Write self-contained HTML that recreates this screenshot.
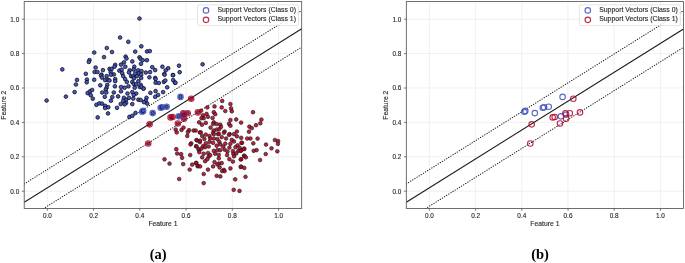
<!DOCTYPE html>
<html><head><meta charset="utf-8"><style>
html,body{margin:0;padding:0;background:#fff;width:685px;height:263px;overflow:hidden}
svg{display:block;will-change:transform;filter:blur(0.25px)}
.tk{font-family:"Liberation Sans",sans-serif;font-size:6.4px;fill:#262626;stroke:#262626;stroke-width:0.12px}
.al{font-family:"Liberation Sans",sans-serif;font-size:6.8px;fill:#262626;stroke:#262626;stroke-width:0.12px}
.lg{font-family:"Liberation Sans",sans-serif;font-size:6.8px;fill:#262626;stroke:#262626;stroke-width:0.12px}
.cap{font-family:"Liberation Serif",serif;font-size:14.5px;font-weight:bold;fill:#000}
</style></head><body>
<svg width="685" height="263" viewBox="0 0 685 263">
<g>
<line x1="47.33" y1="2.0" x2="47.33" y2="208.4" stroke="#e6e6e6" stroke-width="0.6"/>
<line x1="24.2" y1="191.20" x2="301.7" y2="191.20" stroke="#e6e6e6" stroke-width="0.6"/>
<line x1="93.58" y1="2.0" x2="93.58" y2="208.4" stroke="#e6e6e6" stroke-width="0.6"/>
<line x1="24.2" y1="156.80" x2="301.7" y2="156.80" stroke="#e6e6e6" stroke-width="0.6"/>
<line x1="139.82" y1="2.0" x2="139.82" y2="208.4" stroke="#e6e6e6" stroke-width="0.6"/>
<line x1="24.2" y1="122.40" x2="301.7" y2="122.40" stroke="#e6e6e6" stroke-width="0.6"/>
<line x1="186.07" y1="2.0" x2="186.07" y2="208.4" stroke="#e6e6e6" stroke-width="0.6"/>
<line x1="24.2" y1="88.00" x2="301.7" y2="88.00" stroke="#e6e6e6" stroke-width="0.6"/>
<line x1="232.32" y1="2.0" x2="232.32" y2="208.4" stroke="#e6e6e6" stroke-width="0.6"/>
<line x1="24.2" y1="53.60" x2="301.7" y2="53.60" stroke="#e6e6e6" stroke-width="0.6"/>
<line x1="278.58" y1="2.0" x2="278.58" y2="208.4" stroke="#e6e6e6" stroke-width="0.6"/>
<line x1="24.2" y1="19.20" x2="301.7" y2="19.20" stroke="#e6e6e6" stroke-width="0.6"/>
<clipPath id="clipa"><rect x="24.2" y="2.0" width="277.5" height="206.4"/></clipPath>
<g clip-path="url(#clipa)">
<line x1="24.2" y1="202.25" x2="301.7" y2="28.729250000000008" stroke="#1a1a1a" stroke-width="1.1"/>
<line x1="24.2" y1="183.95" x2="301.7" y2="10.429250000000007" stroke="#1a1a1a" stroke-width="1.05" stroke-linecap="round" stroke-dasharray="0.35 2.15"/>
<line x1="24.2" y1="220.65" x2="301.7" y2="47.129250000000006" stroke="#1a1a1a" stroke-width="1.05" stroke-linecap="round" stroke-dasharray="0.35 2.15"/>
<circle cx="139.5" cy="18.5" r="1.85" fill="#4858c6" fill-opacity="1.0" stroke="#000" stroke-opacity="1.0" stroke-width="0.7"/>
<circle cx="120.1" cy="37.5" r="1.85" fill="#4858c6" fill-opacity="1.0" stroke="#000" stroke-opacity="1.0" stroke-width="0.7"/>
<circle cx="128.3" cy="41.8" r="1.85" fill="#4858c6" fill-opacity="1.0" stroke="#000" stroke-opacity="1.0" stroke-width="0.7"/>
<circle cx="106.8" cy="48.0" r="1.85" fill="#4858c6" fill-opacity="1.0" stroke="#000" stroke-opacity="1.0" stroke-width="0.7"/>
<circle cx="112.0" cy="52.0" r="1.85" fill="#4858c6" fill-opacity="1.0" stroke="#000" stroke-opacity="1.0" stroke-width="0.7"/>
<circle cx="141.3" cy="46.3" r="1.85" fill="#4858c6" fill-opacity="1.0" stroke="#000" stroke-opacity="1.0" stroke-width="0.7"/>
<circle cx="135.2" cy="51.6" r="1.85" fill="#4858c6" fill-opacity="1.0" stroke="#000" stroke-opacity="1.0" stroke-width="0.7"/>
<circle cx="147.0" cy="51.4" r="1.85" fill="#4858c6" fill-opacity="1.0" stroke="#000" stroke-opacity="1.0" stroke-width="0.7"/>
<circle cx="149.8" cy="51.1" r="1.85" fill="#4858c6" fill-opacity="1.0" stroke="#000" stroke-opacity="1.0" stroke-width="0.7"/>
<circle cx="94.2" cy="52.5" r="1.85" fill="#4858c6" fill-opacity="1.0" stroke="#000" stroke-opacity="1.0" stroke-width="0.7"/>
<circle cx="89.5" cy="60.1" r="1.85" fill="#4858c6" fill-opacity="1.0" stroke="#000" stroke-opacity="1.0" stroke-width="0.7"/>
<circle cx="88.8" cy="61.9" r="1.85" fill="#4858c6" fill-opacity="1.0" stroke="#000" stroke-opacity="1.0" stroke-width="0.7"/>
<circle cx="62.3" cy="69.4" r="1.85" fill="#4858c6" fill-opacity="1.0" stroke="#000" stroke-opacity="1.0" stroke-width="0.7"/>
<circle cx="95.6" cy="67.5" r="1.85" fill="#4858c6" fill-opacity="1.0" stroke="#000" stroke-opacity="1.0" stroke-width="0.7"/>
<circle cx="94.6" cy="72.0" r="1.85" fill="#4858c6" fill-opacity="1.0" stroke="#000" stroke-opacity="1.0" stroke-width="0.7"/>
<circle cx="97.5" cy="72.0" r="1.85" fill="#4858c6" fill-opacity="1.0" stroke="#000" stroke-opacity="1.0" stroke-width="0.7"/>
<circle cx="85.8" cy="73.8" r="1.85" fill="#4858c6" fill-opacity="1.0" stroke="#000" stroke-opacity="1.0" stroke-width="0.7"/>
<circle cx="77.0" cy="79.9" r="1.85" fill="#4858c6" fill-opacity="1.0" stroke="#000" stroke-opacity="1.0" stroke-width="0.7"/>
<circle cx="86.9" cy="79.6" r="1.85" fill="#4858c6" fill-opacity="1.0" stroke="#000" stroke-opacity="1.0" stroke-width="0.7"/>
<circle cx="86.7" cy="82.3" r="1.85" fill="#4858c6" fill-opacity="1.0" stroke="#000" stroke-opacity="1.0" stroke-width="0.7"/>
<circle cx="94.2" cy="79.7" r="1.85" fill="#4858c6" fill-opacity="1.0" stroke="#000" stroke-opacity="1.0" stroke-width="0.7"/>
<circle cx="75.9" cy="84.5" r="1.85" fill="#4858c6" fill-opacity="1.0" stroke="#000" stroke-opacity="1.0" stroke-width="0.7"/>
<circle cx="104.0" cy="57.1" r="1.85" fill="#4858c6" fill-opacity="1.0" stroke="#000" stroke-opacity="1.0" stroke-width="0.7"/>
<circle cx="125.6" cy="56.6" r="1.85" fill="#4858c6" fill-opacity="1.0" stroke="#000" stroke-opacity="1.0" stroke-width="0.7"/>
<circle cx="126.5" cy="58.5" r="1.85" fill="#4858c6" fill-opacity="1.0" stroke="#000" stroke-opacity="1.0" stroke-width="0.7"/>
<circle cx="139.5" cy="57.3" r="1.85" fill="#4858c6" fill-opacity="1.0" stroke="#000" stroke-opacity="1.0" stroke-width="0.7"/>
<circle cx="140.5" cy="58.8" r="1.85" fill="#4858c6" fill-opacity="1.0" stroke="#000" stroke-opacity="1.0" stroke-width="0.7"/>
<circle cx="142.7" cy="60.2" r="1.85" fill="#4858c6" fill-opacity="1.0" stroke="#000" stroke-opacity="1.0" stroke-width="0.7"/>
<circle cx="132.3" cy="61.4" r="1.85" fill="#4858c6" fill-opacity="1.0" stroke="#000" stroke-opacity="1.0" stroke-width="0.7"/>
<circle cx="123.9" cy="62.4" r="1.85" fill="#4858c6" fill-opacity="1.0" stroke="#000" stroke-opacity="1.0" stroke-width="0.7"/>
<circle cx="121.0" cy="64.6" r="1.85" fill="#4858c6" fill-opacity="1.0" stroke="#000" stroke-opacity="1.0" stroke-width="0.7"/>
<circle cx="115.2" cy="64.9" r="1.85" fill="#4858c6" fill-opacity="1.0" stroke="#000" stroke-opacity="1.0" stroke-width="0.7"/>
<circle cx="114.5" cy="66.7" r="1.85" fill="#4858c6" fill-opacity="1.0" stroke="#000" stroke-opacity="1.0" stroke-width="0.7"/>
<circle cx="125.3" cy="66.7" r="1.85" fill="#4858c6" fill-opacity="1.0" stroke="#000" stroke-opacity="1.0" stroke-width="0.7"/>
<circle cx="134.3" cy="66.7" r="1.85" fill="#4858c6" fill-opacity="1.0" stroke="#000" stroke-opacity="1.0" stroke-width="0.7"/>
<circle cx="141.0" cy="63.8" r="1.85" fill="#4858c6" fill-opacity="1.0" stroke="#000" stroke-opacity="1.0" stroke-width="0.7"/>
<circle cx="102.9" cy="70.1" r="1.85" fill="#4858c6" fill-opacity="1.0" stroke="#000" stroke-opacity="1.0" stroke-width="0.7"/>
<circle cx="109.5" cy="68.9" r="1.85" fill="#4858c6" fill-opacity="1.0" stroke="#000" stroke-opacity="1.0" stroke-width="0.7"/>
<circle cx="111.6" cy="68.9" r="1.85" fill="#4858c6" fill-opacity="1.0" stroke="#000" stroke-opacity="1.0" stroke-width="0.7"/>
<circle cx="110.6" cy="72.1" r="1.85" fill="#4858c6" fill-opacity="1.0" stroke="#000" stroke-opacity="1.0" stroke-width="0.7"/>
<circle cx="113.8" cy="74.4" r="1.85" fill="#4858c6" fill-opacity="1.0" stroke="#000" stroke-opacity="1.0" stroke-width="0.7"/>
<circle cx="101.5" cy="74.7" r="1.85" fill="#4858c6" fill-opacity="1.0" stroke="#000" stroke-opacity="1.0" stroke-width="0.7"/>
<circle cx="119.3" cy="70.6" r="1.85" fill="#4858c6" fill-opacity="1.0" stroke="#000" stroke-opacity="1.0" stroke-width="0.7"/>
<circle cx="121.7" cy="69.6" r="1.85" fill="#4858c6" fill-opacity="1.0" stroke="#000" stroke-opacity="1.0" stroke-width="0.7"/>
<circle cx="122.2" cy="73.2" r="1.85" fill="#4858c6" fill-opacity="1.0" stroke="#000" stroke-opacity="1.0" stroke-width="0.7"/>
<circle cx="129.7" cy="70.3" r="1.85" fill="#4858c6" fill-opacity="1.0" stroke="#000" stroke-opacity="1.0" stroke-width="0.7"/>
<circle cx="129.0" cy="72.5" r="1.85" fill="#4858c6" fill-opacity="1.0" stroke="#000" stroke-opacity="1.0" stroke-width="0.7"/>
<circle cx="133.7" cy="69.6" r="1.85" fill="#4858c6" fill-opacity="1.0" stroke="#000" stroke-opacity="1.0" stroke-width="0.7"/>
<circle cx="138.1" cy="70.3" r="1.85" fill="#4858c6" fill-opacity="1.0" stroke="#000" stroke-opacity="1.0" stroke-width="0.7"/>
<circle cx="138.4" cy="73.5" r="1.85" fill="#4858c6" fill-opacity="1.0" stroke="#000" stroke-opacity="1.0" stroke-width="0.7"/>
<circle cx="141.5" cy="71.1" r="1.85" fill="#4858c6" fill-opacity="1.0" stroke="#000" stroke-opacity="1.0" stroke-width="0.7"/>
<circle cx="135.2" cy="73.5" r="1.85" fill="#4858c6" fill-opacity="1.0" stroke="#000" stroke-opacity="1.0" stroke-width="0.7"/>
<circle cx="131.1" cy="76.1" r="1.85" fill="#4858c6" fill-opacity="1.0" stroke="#000" stroke-opacity="1.0" stroke-width="0.7"/>
<circle cx="141.2" cy="74.7" r="1.85" fill="#4858c6" fill-opacity="1.0" stroke="#000" stroke-opacity="1.0" stroke-width="0.7"/>
<circle cx="123.2" cy="76.1" r="1.85" fill="#4858c6" fill-opacity="1.0" stroke="#000" stroke-opacity="1.0" stroke-width="0.7"/>
<circle cx="106.6" cy="76.1" r="1.85" fill="#4858c6" fill-opacity="1.0" stroke="#000" stroke-opacity="1.0" stroke-width="0.7"/>
<circle cx="146.9" cy="60.2" r="1.85" fill="#4858c6" fill-opacity="1.0" stroke="#000" stroke-opacity="1.0" stroke-width="0.7"/>
<circle cx="152.3" cy="67.2" r="1.85" fill="#4858c6" fill-opacity="1.0" stroke="#000" stroke-opacity="1.0" stroke-width="0.7"/>
<circle cx="155.2" cy="70.1" r="1.85" fill="#4858c6" fill-opacity="1.0" stroke="#000" stroke-opacity="1.0" stroke-width="0.7"/>
<circle cx="162.4" cy="66.7" r="1.85" fill="#4858c6" fill-opacity="1.0" stroke="#000" stroke-opacity="1.0" stroke-width="0.7"/>
<circle cx="168.2" cy="68.2" r="1.85" fill="#4858c6" fill-opacity="1.0" stroke="#000" stroke-opacity="1.0" stroke-width="0.7"/>
<circle cx="165.7" cy="70.3" r="1.85" fill="#4858c6" fill-opacity="1.0" stroke="#000" stroke-opacity="1.0" stroke-width="0.7"/>
<circle cx="179.0" cy="65.7" r="1.85" fill="#4858c6" fill-opacity="1.0" stroke="#000" stroke-opacity="1.0" stroke-width="0.7"/>
<circle cx="179.7" cy="72.2" r="1.85" fill="#4858c6" fill-opacity="1.0" stroke="#000" stroke-opacity="1.0" stroke-width="0.7"/>
<circle cx="164.3" cy="74.0" r="1.85" fill="#4858c6" fill-opacity="1.0" stroke="#000" stroke-opacity="1.0" stroke-width="0.7"/>
<circle cx="173.0" cy="75.0" r="1.85" fill="#4858c6" fill-opacity="1.0" stroke="#000" stroke-opacity="1.0" stroke-width="0.7"/>
<circle cx="145.8" cy="72.5" r="1.85" fill="#4858c6" fill-opacity="1.0" stroke="#000" stroke-opacity="1.0" stroke-width="0.7"/>
<circle cx="150.1" cy="72.1" r="1.85" fill="#4858c6" fill-opacity="1.0" stroke="#000" stroke-opacity="1.0" stroke-width="0.7"/>
<circle cx="149.4" cy="77.3" r="1.85" fill="#4858c6" fill-opacity="1.0" stroke="#000" stroke-opacity="1.0" stroke-width="0.7"/>
<circle cx="155.2" cy="77.9" r="1.85" fill="#4858c6" fill-opacity="1.0" stroke="#000" stroke-opacity="1.0" stroke-width="0.7"/>
<circle cx="101.1" cy="75.4" r="1.85" fill="#4858c6" fill-opacity="1.0" stroke="#000" stroke-opacity="1.0" stroke-width="0.7"/>
<circle cx="101.9" cy="77.6" r="1.85" fill="#4858c6" fill-opacity="1.0" stroke="#000" stroke-opacity="1.0" stroke-width="0.7"/>
<circle cx="110.9" cy="74.7" r="1.85" fill="#4858c6" fill-opacity="1.0" stroke="#000" stroke-opacity="1.0" stroke-width="0.7"/>
<circle cx="132.9" cy="76.6" r="1.85" fill="#4858c6" fill-opacity="1.0" stroke="#000" stroke-opacity="1.0" stroke-width="0.7"/>
<circle cx="136.9" cy="76.2" r="1.85" fill="#4858c6" fill-opacity="1.0" stroke="#000" stroke-opacity="1.0" stroke-width="0.7"/>
<circle cx="141.2" cy="78.0" r="1.85" fill="#4858c6" fill-opacity="1.0" stroke="#000" stroke-opacity="1.0" stroke-width="0.7"/>
<circle cx="105.1" cy="80.1" r="1.85" fill="#4858c6" fill-opacity="1.0" stroke="#000" stroke-opacity="1.0" stroke-width="0.7"/>
<circle cx="108.0" cy="79.8" r="1.85" fill="#4858c6" fill-opacity="1.0" stroke="#000" stroke-opacity="1.0" stroke-width="0.7"/>
<circle cx="109.5" cy="80.5" r="1.85" fill="#4858c6" fill-opacity="1.0" stroke="#000" stroke-opacity="1.0" stroke-width="0.7"/>
<circle cx="115.2" cy="79.1" r="1.85" fill="#4858c6" fill-opacity="1.0" stroke="#000" stroke-opacity="1.0" stroke-width="0.7"/>
<circle cx="115.2" cy="81.2" r="1.85" fill="#4858c6" fill-opacity="1.0" stroke="#000" stroke-opacity="1.0" stroke-width="0.7"/>
<circle cx="125.1" cy="79.1" r="1.85" fill="#4858c6" fill-opacity="1.0" stroke="#000" stroke-opacity="1.0" stroke-width="0.7"/>
<circle cx="126.8" cy="81.9" r="1.85" fill="#4858c6" fill-opacity="1.0" stroke="#000" stroke-opacity="1.0" stroke-width="0.7"/>
<circle cx="132.3" cy="81.9" r="1.85" fill="#4858c6" fill-opacity="1.0" stroke="#000" stroke-opacity="1.0" stroke-width="0.7"/>
<circle cx="134.0" cy="78.3" r="1.85" fill="#4858c6" fill-opacity="1.0" stroke="#000" stroke-opacity="1.0" stroke-width="0.7"/>
<circle cx="138.4" cy="81.2" r="1.85" fill="#4858c6" fill-opacity="1.0" stroke="#000" stroke-opacity="1.0" stroke-width="0.7"/>
<circle cx="100.3" cy="85.3" r="1.85" fill="#4858c6" fill-opacity="1.0" stroke="#000" stroke-opacity="1.0" stroke-width="0.7"/>
<circle cx="107.3" cy="84.8" r="1.85" fill="#4858c6" fill-opacity="1.0" stroke="#000" stroke-opacity="1.0" stroke-width="0.7"/>
<circle cx="106.6" cy="87.7" r="1.85" fill="#4858c6" fill-opacity="1.0" stroke="#000" stroke-opacity="1.0" stroke-width="0.7"/>
<circle cx="105.8" cy="89.6" r="1.85" fill="#4858c6" fill-opacity="1.0" stroke="#000" stroke-opacity="1.0" stroke-width="0.7"/>
<circle cx="114.9" cy="86.3" r="1.85" fill="#4858c6" fill-opacity="1.0" stroke="#000" stroke-opacity="1.0" stroke-width="0.7"/>
<circle cx="121.0" cy="87.0" r="1.85" fill="#4858c6" fill-opacity="1.0" stroke="#000" stroke-opacity="1.0" stroke-width="0.7"/>
<circle cx="124.6" cy="87.7" r="1.85" fill="#4858c6" fill-opacity="1.0" stroke="#000" stroke-opacity="1.0" stroke-width="0.7"/>
<circle cx="128.5" cy="86.3" r="1.85" fill="#4858c6" fill-opacity="1.0" stroke="#000" stroke-opacity="1.0" stroke-width="0.7"/>
<circle cx="133.7" cy="83.8" r="1.85" fill="#4858c6" fill-opacity="1.0" stroke="#000" stroke-opacity="1.0" stroke-width="0.7"/>
<circle cx="136.2" cy="84.4" r="1.85" fill="#4858c6" fill-opacity="1.0" stroke="#000" stroke-opacity="1.0" stroke-width="0.7"/>
<circle cx="134.7" cy="87.7" r="1.85" fill="#4858c6" fill-opacity="1.0" stroke="#000" stroke-opacity="1.0" stroke-width="0.7"/>
<circle cx="139.8" cy="87.0" r="1.85" fill="#4858c6" fill-opacity="1.0" stroke="#000" stroke-opacity="1.0" stroke-width="0.7"/>
<circle cx="143.4" cy="88.5" r="1.85" fill="#4858c6" fill-opacity="1.0" stroke="#000" stroke-opacity="1.0" stroke-width="0.7"/>
<circle cx="102.2" cy="92.5" r="1.85" fill="#4858c6" fill-opacity="1.0" stroke="#000" stroke-opacity="1.0" stroke-width="0.7"/>
<circle cx="106.3" cy="92.5" r="1.85" fill="#4858c6" fill-opacity="1.0" stroke="#000" stroke-opacity="1.0" stroke-width="0.7"/>
<circle cx="113.8" cy="92.5" r="1.85" fill="#4858c6" fill-opacity="1.0" stroke="#000" stroke-opacity="1.0" stroke-width="0.7"/>
<circle cx="121.0" cy="91.3" r="1.85" fill="#4858c6" fill-opacity="1.0" stroke="#000" stroke-opacity="1.0" stroke-width="0.7"/>
<circle cx="127.5" cy="93.5" r="1.85" fill="#4858c6" fill-opacity="1.0" stroke="#000" stroke-opacity="1.0" stroke-width="0.7"/>
<circle cx="132.3" cy="92.1" r="1.85" fill="#4858c6" fill-opacity="1.0" stroke="#000" stroke-opacity="1.0" stroke-width="0.7"/>
<circle cx="136.2" cy="93.5" r="1.85" fill="#4858c6" fill-opacity="1.0" stroke="#000" stroke-opacity="1.0" stroke-width="0.7"/>
<circle cx="133.7" cy="95.0" r="1.85" fill="#4858c6" fill-opacity="1.0" stroke="#000" stroke-opacity="1.0" stroke-width="0.7"/>
<circle cx="104.8" cy="96.8" r="1.85" fill="#4858c6" fill-opacity="1.0" stroke="#000" stroke-opacity="1.0" stroke-width="0.7"/>
<circle cx="112.3" cy="97.1" r="1.85" fill="#4858c6" fill-opacity="1.0" stroke="#000" stroke-opacity="1.0" stroke-width="0.7"/>
<circle cx="118.1" cy="96.4" r="1.85" fill="#4858c6" fill-opacity="1.0" stroke="#000" stroke-opacity="1.0" stroke-width="0.7"/>
<circle cx="123.9" cy="97.8" r="1.85" fill="#4858c6" fill-opacity="1.0" stroke="#000" stroke-opacity="1.0" stroke-width="0.7"/>
<circle cx="126.1" cy="99.7" r="1.85" fill="#4858c6" fill-opacity="1.0" stroke="#000" stroke-opacity="1.0" stroke-width="0.7"/>
<circle cx="129.0" cy="97.8" r="1.85" fill="#4858c6" fill-opacity="1.0" stroke="#000" stroke-opacity="1.0" stroke-width="0.7"/>
<circle cx="133.3" cy="98.6" r="1.85" fill="#4858c6" fill-opacity="1.0" stroke="#000" stroke-opacity="1.0" stroke-width="0.7"/>
<circle cx="138.4" cy="99.7" r="1.85" fill="#4858c6" fill-opacity="1.0" stroke="#000" stroke-opacity="1.0" stroke-width="0.7"/>
<circle cx="110.9" cy="100.7" r="1.85" fill="#4858c6" fill-opacity="1.0" stroke="#000" stroke-opacity="1.0" stroke-width="0.7"/>
<circle cx="123.2" cy="100.7" r="1.85" fill="#4858c6" fill-opacity="1.0" stroke="#000" stroke-opacity="1.0" stroke-width="0.7"/>
<circle cx="126.1" cy="102.9" r="1.85" fill="#4858c6" fill-opacity="1.0" stroke="#000" stroke-opacity="1.0" stroke-width="0.7"/>
<circle cx="124.6" cy="104.3" r="1.85" fill="#4858c6" fill-opacity="1.0" stroke="#000" stroke-opacity="1.0" stroke-width="0.7"/>
<circle cx="132.3" cy="104.1" r="1.85" fill="#4858c6" fill-opacity="1.0" stroke="#000" stroke-opacity="1.0" stroke-width="0.7"/>
<circle cx="120.7" cy="104.1" r="1.85" fill="#4858c6" fill-opacity="1.0" stroke="#000" stroke-opacity="1.0" stroke-width="0.7"/>
<circle cx="96.4" cy="104.8" r="1.85" fill="#4858c6" fill-opacity="1.0" stroke="#000" stroke-opacity="1.0" stroke-width="0.7"/>
<circle cx="99.3" cy="103.4" r="1.85" fill="#4858c6" fill-opacity="1.0" stroke="#000" stroke-opacity="1.0" stroke-width="0.7"/>
<circle cx="101.9" cy="103.6" r="1.85" fill="#4858c6" fill-opacity="1.0" stroke="#000" stroke-opacity="1.0" stroke-width="0.7"/>
<circle cx="105.1" cy="105.8" r="1.85" fill="#4858c6" fill-opacity="1.0" stroke="#000" stroke-opacity="1.0" stroke-width="0.7"/>
<circle cx="105.1" cy="108.0" r="1.85" fill="#4858c6" fill-opacity="1.0" stroke="#000" stroke-opacity="1.0" stroke-width="0.7"/>
<circle cx="108.3" cy="107.2" r="1.85" fill="#4858c6" fill-opacity="1.0" stroke="#000" stroke-opacity="1.0" stroke-width="0.7"/>
<circle cx="117.0" cy="107.8" r="1.85" fill="#4858c6" fill-opacity="1.0" stroke="#000" stroke-opacity="1.0" stroke-width="0.7"/>
<circle cx="155.6" cy="79.1" r="1.85" fill="#4858c6" fill-opacity="1.0" stroke="#000" stroke-opacity="1.0" stroke-width="0.7"/>
<circle cx="155.6" cy="82.7" r="1.85" fill="#4858c6" fill-opacity="1.0" stroke="#000" stroke-opacity="1.0" stroke-width="0.7"/>
<circle cx="158.8" cy="83.0" r="1.85" fill="#4858c6" fill-opacity="1.0" stroke="#000" stroke-opacity="1.0" stroke-width="0.7"/>
<circle cx="163.8" cy="81.9" r="1.85" fill="#4858c6" fill-opacity="1.0" stroke="#000" stroke-opacity="1.0" stroke-width="0.7"/>
<circle cx="165.3" cy="80.5" r="1.85" fill="#4858c6" fill-opacity="1.0" stroke="#000" stroke-opacity="1.0" stroke-width="0.7"/>
<circle cx="164.6" cy="74.7" r="1.85" fill="#4858c6" fill-opacity="1.0" stroke="#000" stroke-opacity="1.0" stroke-width="0.7"/>
<circle cx="173.0" cy="75.2" r="1.85" fill="#4858c6" fill-opacity="1.0" stroke="#000" stroke-opacity="1.0" stroke-width="0.7"/>
<circle cx="173.2" cy="80.1" r="1.85" fill="#4858c6" fill-opacity="1.0" stroke="#000" stroke-opacity="1.0" stroke-width="0.7"/>
<circle cx="175.0" cy="82.7" r="1.85" fill="#4858c6" fill-opacity="1.0" stroke="#000" stroke-opacity="1.0" stroke-width="0.7"/>
<circle cx="140.7" cy="84.8" r="1.85" fill="#4858c6" fill-opacity="1.0" stroke="#000" stroke-opacity="1.0" stroke-width="0.7"/>
<circle cx="141.4" cy="86.7" r="1.85" fill="#4858c6" fill-opacity="1.0" stroke="#000" stroke-opacity="1.0" stroke-width="0.7"/>
<circle cx="143.6" cy="88.5" r="1.85" fill="#4858c6" fill-opacity="1.0" stroke="#000" stroke-opacity="1.0" stroke-width="0.7"/>
<circle cx="167.2" cy="87.3" r="1.85" fill="#4858c6" fill-opacity="1.0" stroke="#000" stroke-opacity="1.0" stroke-width="0.7"/>
<circle cx="150.4" cy="92.8" r="1.85" fill="#4858c6" fill-opacity="1.0" stroke="#000" stroke-opacity="1.0" stroke-width="0.7"/>
<circle cx="155.6" cy="91.1" r="1.85" fill="#4858c6" fill-opacity="1.0" stroke="#000" stroke-opacity="1.0" stroke-width="0.7"/>
<circle cx="163.1" cy="92.1" r="1.85" fill="#4858c6" fill-opacity="1.0" stroke="#000" stroke-opacity="1.0" stroke-width="0.7"/>
<circle cx="155.2" cy="96.8" r="1.85" fill="#4858c6" fill-opacity="1.0" stroke="#000" stroke-opacity="1.0" stroke-width="0.7"/>
<circle cx="158.1" cy="95.0" r="1.85" fill="#4858c6" fill-opacity="1.0" stroke="#000" stroke-opacity="1.0" stroke-width="0.7"/>
<circle cx="146.5" cy="97.8" r="1.85" fill="#4858c6" fill-opacity="1.0" stroke="#000" stroke-opacity="1.0" stroke-width="0.7"/>
<circle cx="145.8" cy="100.7" r="1.85" fill="#4858c6" fill-opacity="1.0" stroke="#000" stroke-opacity="1.0" stroke-width="0.7"/>
<circle cx="147.2" cy="103.6" r="1.85" fill="#4858c6" fill-opacity="1.0" stroke="#000" stroke-opacity="1.0" stroke-width="0.7"/>
<circle cx="144.0" cy="102.2" r="1.85" fill="#4858c6" fill-opacity="1.0" stroke="#000" stroke-opacity="1.0" stroke-width="0.7"/>
<circle cx="140.7" cy="100.0" r="1.85" fill="#4858c6" fill-opacity="1.0" stroke="#000" stroke-opacity="1.0" stroke-width="0.7"/>
<circle cx="74.6" cy="92.1" r="1.85" fill="#4858c6" fill-opacity="1.0" stroke="#000" stroke-opacity="1.0" stroke-width="0.7"/>
<circle cx="65.9" cy="96.6" r="1.85" fill="#4858c6" fill-opacity="1.0" stroke="#000" stroke-opacity="1.0" stroke-width="0.7"/>
<circle cx="46.6" cy="100.5" r="1.85" fill="#4858c6" fill-opacity="1.0" stroke="#000" stroke-opacity="1.0" stroke-width="0.7"/>
<circle cx="87.6" cy="93.1" r="1.85" fill="#4858c6" fill-opacity="1.0" stroke="#000" stroke-opacity="1.0" stroke-width="0.7"/>
<circle cx="89.9" cy="91.4" r="1.85" fill="#4858c6" fill-opacity="1.0" stroke="#000" stroke-opacity="1.0" stroke-width="0.7"/>
<circle cx="92.1" cy="90.0" r="1.85" fill="#4858c6" fill-opacity="1.0" stroke="#000" stroke-opacity="1.0" stroke-width="0.7"/>
<circle cx="90.7" cy="95.2" r="1.85" fill="#4858c6" fill-opacity="1.0" stroke="#000" stroke-opacity="1.0" stroke-width="0.7"/>
<circle cx="92.8" cy="98.7" r="1.85" fill="#4858c6" fill-opacity="1.0" stroke="#000" stroke-opacity="1.0" stroke-width="0.7"/>
<circle cx="97.7" cy="117.4" r="1.85" fill="#4858c6" fill-opacity="1.0" stroke="#000" stroke-opacity="1.0" stroke-width="0.7"/>
<circle cx="108.0" cy="113.4" r="1.85" fill="#4858c6" fill-opacity="1.0" stroke="#000" stroke-opacity="1.0" stroke-width="0.7"/>
<circle cx="129.4" cy="116.9" r="1.85" fill="#4858c6" fill-opacity="1.0" stroke="#000" stroke-opacity="1.0" stroke-width="0.7"/>
<circle cx="132.3" cy="115.8" r="1.85" fill="#4858c6" fill-opacity="1.0" stroke="#000" stroke-opacity="1.0" stroke-width="0.7"/>
<circle cx="135.5" cy="112.9" r="1.85" fill="#4858c6" fill-opacity="1.0" stroke="#000" stroke-opacity="1.0" stroke-width="0.7"/>
<circle cx="202.6" cy="64.3" r="1.85" fill="#4858c6" fill-opacity="1.0" stroke="#000" stroke-opacity="1.0" stroke-width="0.7"/>
<circle cx="175.4" cy="82.7" r="1.85" fill="#4858c6" fill-opacity="1.0" stroke="#000" stroke-opacity="1.0" stroke-width="0.7"/>
<circle cx="142.2" cy="111.7" r="1.85" fill="#4858c6" fill-opacity="1.0" stroke="#000" stroke-opacity="1.0" stroke-width="0.7"/>
<circle cx="143.2" cy="110.9" r="1.85" fill="#4858c6" fill-opacity="1.0" stroke="#000" stroke-opacity="1.0" stroke-width="0.7"/>
<circle cx="152.7" cy="113.1" r="1.85" fill="#4858c6" fill-opacity="1.0" stroke="#000" stroke-opacity="1.0" stroke-width="0.7"/>
<circle cx="160.7" cy="107.7" r="1.85" fill="#4858c6" fill-opacity="1.0" stroke="#000" stroke-opacity="1.0" stroke-width="0.7"/>
<circle cx="162.0" cy="107.2" r="1.85" fill="#4858c6" fill-opacity="1.0" stroke="#000" stroke-opacity="1.0" stroke-width="0.7"/>
<circle cx="166.6" cy="106.7" r="1.85" fill="#4858c6" fill-opacity="1.0" stroke="#000" stroke-opacity="1.0" stroke-width="0.7"/>
<circle cx="180.5" cy="96.9" r="1.85" fill="#4858c6" fill-opacity="1.0" stroke="#000" stroke-opacity="1.0" stroke-width="0.7"/>
<circle cx="178.8" cy="116.3" r="1.85" fill="#4858c6" fill-opacity="1.0" stroke="#000" stroke-opacity="1.0" stroke-width="0.7"/>
<circle cx="184.0" cy="114.6" r="1.85" fill="#4858c6" fill-opacity="1.0" stroke="#000" stroke-opacity="1.0" stroke-width="0.7"/>
<circle cx="175.7" cy="129.5" r="1.85" fill="#b40426" fill-opacity="0.88" stroke="#1a1a1a" stroke-opacity="0.9" stroke-width="0.7"/>
<circle cx="176.7" cy="132.4" r="1.85" fill="#b40426" fill-opacity="0.88" stroke="#1a1a1a" stroke-opacity="0.9" stroke-width="0.7"/>
<circle cx="181.5" cy="129.9" r="1.85" fill="#b40426" fill-opacity="0.88" stroke="#1a1a1a" stroke-opacity="0.9" stroke-width="0.7"/>
<circle cx="183.5" cy="127.6" r="1.85" fill="#b40426" fill-opacity="0.88" stroke="#1a1a1a" stroke-opacity="0.9" stroke-width="0.7"/>
<circle cx="189.0" cy="130.2" r="1.85" fill="#b40426" fill-opacity="0.88" stroke="#1a1a1a" stroke-opacity="0.9" stroke-width="0.7"/>
<circle cx="187.9" cy="132.0" r="1.85" fill="#b40426" fill-opacity="0.88" stroke="#1a1a1a" stroke-opacity="0.9" stroke-width="0.7"/>
<circle cx="193.6" cy="130.5" r="1.85" fill="#b40426" fill-opacity="0.88" stroke="#1a1a1a" stroke-opacity="0.9" stroke-width="0.7"/>
<circle cx="187.3" cy="135.9" r="1.85" fill="#b40426" fill-opacity="0.88" stroke="#1a1a1a" stroke-opacity="0.9" stroke-width="0.7"/>
<circle cx="199.1" cy="122.3" r="1.85" fill="#b40426" fill-opacity="0.88" stroke="#1a1a1a" stroke-opacity="0.9" stroke-width="0.7"/>
<circle cx="199.9" cy="132.4" r="1.85" fill="#b40426" fill-opacity="0.88" stroke="#1a1a1a" stroke-opacity="0.9" stroke-width="0.7"/>
<circle cx="197.0" cy="140.4" r="1.85" fill="#b40426" fill-opacity="0.88" stroke="#1a1a1a" stroke-opacity="0.9" stroke-width="0.7"/>
<circle cx="199.9" cy="142.1" r="1.85" fill="#b40426" fill-opacity="0.88" stroke="#1a1a1a" stroke-opacity="0.9" stroke-width="0.7"/>
<circle cx="191.2" cy="143.3" r="1.85" fill="#b40426" fill-opacity="0.88" stroke="#1a1a1a" stroke-opacity="0.9" stroke-width="0.7"/>
<circle cx="196.0" cy="146.2" r="1.85" fill="#b40426" fill-opacity="0.88" stroke="#1a1a1a" stroke-opacity="0.9" stroke-width="0.7"/>
<circle cx="222.2" cy="100.9" r="1.85" fill="#b40426" fill-opacity="0.88" stroke="#1a1a1a" stroke-opacity="0.9" stroke-width="0.7"/>
<circle cx="230.4" cy="104.1" r="1.85" fill="#b40426" fill-opacity="0.88" stroke="#1a1a1a" stroke-opacity="0.9" stroke-width="0.7"/>
<circle cx="214.5" cy="106.4" r="1.85" fill="#b40426" fill-opacity="0.88" stroke="#1a1a1a" stroke-opacity="0.9" stroke-width="0.7"/>
<circle cx="207.3" cy="107.4" r="1.85" fill="#b40426" fill-opacity="0.88" stroke="#1a1a1a" stroke-opacity="0.9" stroke-width="0.7"/>
<circle cx="221.7" cy="107.4" r="1.85" fill="#b40426" fill-opacity="0.88" stroke="#1a1a1a" stroke-opacity="0.9" stroke-width="0.7"/>
<circle cx="231.1" cy="108.4" r="1.85" fill="#b40426" fill-opacity="0.88" stroke="#1a1a1a" stroke-opacity="0.9" stroke-width="0.7"/>
<circle cx="225.3" cy="111.0" r="1.85" fill="#b40426" fill-opacity="0.88" stroke="#1a1a1a" stroke-opacity="0.9" stroke-width="0.7"/>
<circle cx="231.8" cy="111.3" r="1.85" fill="#b40426" fill-opacity="0.88" stroke="#1a1a1a" stroke-opacity="0.9" stroke-width="0.7"/>
<circle cx="201.1" cy="110.7" r="1.85" fill="#b40426" fill-opacity="0.88" stroke="#1a1a1a" stroke-opacity="0.9" stroke-width="0.7"/>
<circle cx="213.8" cy="112.2" r="1.85" fill="#b40426" fill-opacity="0.88" stroke="#1a1a1a" stroke-opacity="0.9" stroke-width="0.7"/>
<circle cx="215.2" cy="114.2" r="1.85" fill="#b40426" fill-opacity="0.88" stroke="#1a1a1a" stroke-opacity="0.9" stroke-width="0.7"/>
<circle cx="206.6" cy="113.9" r="1.85" fill="#b40426" fill-opacity="0.88" stroke="#1a1a1a" stroke-opacity="0.9" stroke-width="0.7"/>
<circle cx="203.0" cy="115.3" r="1.85" fill="#b40426" fill-opacity="0.88" stroke="#1a1a1a" stroke-opacity="0.9" stroke-width="0.7"/>
<circle cx="208.0" cy="116.8" r="1.85" fill="#b40426" fill-opacity="0.88" stroke="#1a1a1a" stroke-opacity="0.9" stroke-width="0.7"/>
<circle cx="212.6" cy="118.0" r="1.85" fill="#b40426" fill-opacity="0.88" stroke="#1a1a1a" stroke-opacity="0.9" stroke-width="0.7"/>
<circle cx="203.7" cy="118.2" r="1.85" fill="#b40426" fill-opacity="0.88" stroke="#1a1a1a" stroke-opacity="0.9" stroke-width="0.7"/>
<circle cx="201.5" cy="118.2" r="1.85" fill="#b40426" fill-opacity="0.88" stroke="#1a1a1a" stroke-opacity="0.9" stroke-width="0.7"/>
<circle cx="205.8" cy="122.9" r="1.85" fill="#b40426" fill-opacity="0.88" stroke="#1a1a1a" stroke-opacity="0.9" stroke-width="0.7"/>
<circle cx="201.9" cy="124.7" r="1.85" fill="#b40426" fill-opacity="0.88" stroke="#1a1a1a" stroke-opacity="0.9" stroke-width="0.7"/>
<circle cx="213.8" cy="122.3" r="1.85" fill="#b40426" fill-opacity="0.88" stroke="#1a1a1a" stroke-opacity="0.9" stroke-width="0.7"/>
<circle cx="213.1" cy="124.0" r="1.85" fill="#b40426" fill-opacity="0.88" stroke="#1a1a1a" stroke-opacity="0.9" stroke-width="0.7"/>
<circle cx="216.7" cy="124.0" r="1.85" fill="#b40426" fill-opacity="0.88" stroke="#1a1a1a" stroke-opacity="0.9" stroke-width="0.7"/>
<circle cx="220.3" cy="124.7" r="1.85" fill="#b40426" fill-opacity="0.88" stroke="#1a1a1a" stroke-opacity="0.9" stroke-width="0.7"/>
<circle cx="221.0" cy="126.9" r="1.85" fill="#b40426" fill-opacity="0.88" stroke="#1a1a1a" stroke-opacity="0.9" stroke-width="0.7"/>
<circle cx="210.6" cy="127.6" r="1.85" fill="#b40426" fill-opacity="0.88" stroke="#1a1a1a" stroke-opacity="0.9" stroke-width="0.7"/>
<circle cx="213.8" cy="130.5" r="1.85" fill="#b40426" fill-opacity="0.88" stroke="#1a1a1a" stroke-opacity="0.9" stroke-width="0.7"/>
<circle cx="216.7" cy="129.5" r="1.85" fill="#b40426" fill-opacity="0.88" stroke="#1a1a1a" stroke-opacity="0.9" stroke-width="0.7"/>
<circle cx="219.3" cy="129.1" r="1.85" fill="#b40426" fill-opacity="0.88" stroke="#1a1a1a" stroke-opacity="0.9" stroke-width="0.7"/>
<circle cx="224.6" cy="131.5" r="1.85" fill="#b40426" fill-opacity="0.88" stroke="#1a1a1a" stroke-opacity="0.9" stroke-width="0.7"/>
<circle cx="213.1" cy="132.7" r="1.85" fill="#b40426" fill-opacity="0.88" stroke="#1a1a1a" stroke-opacity="0.9" stroke-width="0.7"/>
<circle cx="230.4" cy="120.0" r="1.85" fill="#b40426" fill-opacity="0.88" stroke="#1a1a1a" stroke-opacity="0.9" stroke-width="0.7"/>
<circle cx="236.2" cy="119.4" r="1.85" fill="#b40426" fill-opacity="0.88" stroke="#1a1a1a" stroke-opacity="0.9" stroke-width="0.7"/>
<circle cx="241.1" cy="122.6" r="1.85" fill="#b40426" fill-opacity="0.88" stroke="#1a1a1a" stroke-opacity="0.9" stroke-width="0.7"/>
<circle cx="229.0" cy="123.7" r="1.85" fill="#b40426" fill-opacity="0.88" stroke="#1a1a1a" stroke-opacity="0.9" stroke-width="0.7"/>
<circle cx="230.4" cy="125.7" r="1.85" fill="#b40426" fill-opacity="0.88" stroke="#1a1a1a" stroke-opacity="0.9" stroke-width="0.7"/>
<circle cx="236.9" cy="131.5" r="1.85" fill="#b40426" fill-opacity="0.88" stroke="#1a1a1a" stroke-opacity="0.9" stroke-width="0.7"/>
<circle cx="200.8" cy="132.4" r="1.85" fill="#b40426" fill-opacity="0.88" stroke="#1a1a1a" stroke-opacity="0.9" stroke-width="0.7"/>
<circle cx="218.1" cy="134.1" r="1.85" fill="#b40426" fill-opacity="0.88" stroke="#1a1a1a" stroke-opacity="0.9" stroke-width="0.7"/>
<circle cx="229.7" cy="134.1" r="1.85" fill="#b40426" fill-opacity="0.88" stroke="#1a1a1a" stroke-opacity="0.9" stroke-width="0.7"/>
<circle cx="234.0" cy="134.1" r="1.85" fill="#b40426" fill-opacity="0.88" stroke="#1a1a1a" stroke-opacity="0.9" stroke-width="0.7"/>
<circle cx="195.7" cy="130.5" r="1.85" fill="#b40426" fill-opacity="0.88" stroke="#1a1a1a" stroke-opacity="0.9" stroke-width="0.7"/>
<circle cx="253.0" cy="112.2" r="1.85" fill="#b40426" fill-opacity="0.88" stroke="#1a1a1a" stroke-opacity="0.9" stroke-width="0.7"/>
<circle cx="261.4" cy="119.6" r="1.85" fill="#b40426" fill-opacity="0.88" stroke="#1a1a1a" stroke-opacity="0.9" stroke-width="0.7"/>
<circle cx="260.3" cy="123.3" r="1.85" fill="#b40426" fill-opacity="0.88" stroke="#1a1a1a" stroke-opacity="0.9" stroke-width="0.7"/>
<circle cx="256.0" cy="125.2" r="1.85" fill="#b40426" fill-opacity="0.88" stroke="#1a1a1a" stroke-opacity="0.9" stroke-width="0.7"/>
<circle cx="249.4" cy="126.6" r="1.85" fill="#b40426" fill-opacity="0.88" stroke="#1a1a1a" stroke-opacity="0.9" stroke-width="0.7"/>
<circle cx="251.8" cy="128.1" r="1.85" fill="#b40426" fill-opacity="0.88" stroke="#1a1a1a" stroke-opacity="0.9" stroke-width="0.7"/>
<circle cx="249.0" cy="131.7" r="1.85" fill="#b40426" fill-opacity="0.88" stroke="#1a1a1a" stroke-opacity="0.9" stroke-width="0.7"/>
<circle cx="190.5" cy="144.4" r="1.85" fill="#b40426" fill-opacity="0.88" stroke="#1a1a1a" stroke-opacity="0.9" stroke-width="0.7"/>
<circle cx="199.1" cy="149.9" r="1.85" fill="#b40426" fill-opacity="0.88" stroke="#1a1a1a" stroke-opacity="0.9" stroke-width="0.7"/>
<circle cx="176.3" cy="149.2" r="1.85" fill="#b40426" fill-opacity="0.88" stroke="#1a1a1a" stroke-opacity="0.9" stroke-width="0.7"/>
<circle cx="177.2" cy="153.5" r="1.85" fill="#b40426" fill-opacity="0.88" stroke="#1a1a1a" stroke-opacity="0.9" stroke-width="0.7"/>
<circle cx="181.1" cy="154.2" r="1.85" fill="#b40426" fill-opacity="0.88" stroke="#1a1a1a" stroke-opacity="0.9" stroke-width="0.7"/>
<circle cx="182.1" cy="157.8" r="1.85" fill="#b40426" fill-opacity="0.88" stroke="#1a1a1a" stroke-opacity="0.9" stroke-width="0.7"/>
<circle cx="190.2" cy="155.0" r="1.85" fill="#b40426" fill-opacity="0.88" stroke="#1a1a1a" stroke-opacity="0.9" stroke-width="0.7"/>
<circle cx="164.5" cy="159.3" r="1.85" fill="#b40426" fill-opacity="0.88" stroke="#1a1a1a" stroke-opacity="0.9" stroke-width="0.7"/>
<circle cx="169.5" cy="163.6" r="1.85" fill="#b40426" fill-opacity="0.88" stroke="#1a1a1a" stroke-opacity="0.9" stroke-width="0.7"/>
<circle cx="183.2" cy="164.1" r="1.85" fill="#b40426" fill-opacity="0.88" stroke="#1a1a1a" stroke-opacity="0.9" stroke-width="0.7"/>
<circle cx="192.2" cy="164.6" r="1.85" fill="#b40426" fill-opacity="0.88" stroke="#1a1a1a" stroke-opacity="0.9" stroke-width="0.7"/>
<circle cx="196.0" cy="162.9" r="1.85" fill="#b40426" fill-opacity="0.88" stroke="#1a1a1a" stroke-opacity="0.9" stroke-width="0.7"/>
<circle cx="197.7" cy="166.2" r="1.85" fill="#b40426" fill-opacity="0.88" stroke="#1a1a1a" stroke-opacity="0.9" stroke-width="0.7"/>
<circle cx="189.7" cy="169.6" r="1.85" fill="#b40426" fill-opacity="0.88" stroke="#1a1a1a" stroke-opacity="0.9" stroke-width="0.7"/>
<circle cx="205.8" cy="134.6" r="1.85" fill="#b40426" fill-opacity="0.88" stroke="#1a1a1a" stroke-opacity="0.9" stroke-width="0.7"/>
<circle cx="209.5" cy="136.0" r="1.85" fill="#b40426" fill-opacity="0.88" stroke="#1a1a1a" stroke-opacity="0.9" stroke-width="0.7"/>
<circle cx="213.8" cy="134.2" r="1.85" fill="#b40426" fill-opacity="0.88" stroke="#1a1a1a" stroke-opacity="0.9" stroke-width="0.7"/>
<circle cx="218.8" cy="133.7" r="1.85" fill="#b40426" fill-opacity="0.88" stroke="#1a1a1a" stroke-opacity="0.9" stroke-width="0.7"/>
<circle cx="223.9" cy="132.7" r="1.85" fill="#b40426" fill-opacity="0.88" stroke="#1a1a1a" stroke-opacity="0.9" stroke-width="0.7"/>
<circle cx="229.0" cy="134.8" r="1.85" fill="#b40426" fill-opacity="0.88" stroke="#1a1a1a" stroke-opacity="0.9" stroke-width="0.7"/>
<circle cx="236.9" cy="136.3" r="1.85" fill="#b40426" fill-opacity="0.88" stroke="#1a1a1a" stroke-opacity="0.9" stroke-width="0.7"/>
<circle cx="241.2" cy="137.8" r="1.85" fill="#b40426" fill-opacity="0.88" stroke="#1a1a1a" stroke-opacity="0.9" stroke-width="0.7"/>
<circle cx="202.2" cy="136.0" r="1.85" fill="#b40426" fill-opacity="0.88" stroke="#1a1a1a" stroke-opacity="0.9" stroke-width="0.7"/>
<circle cx="221.7" cy="137.1" r="1.85" fill="#b40426" fill-opacity="0.88" stroke="#1a1a1a" stroke-opacity="0.9" stroke-width="0.7"/>
<circle cx="226.1" cy="138.5" r="1.85" fill="#b40426" fill-opacity="0.88" stroke="#1a1a1a" stroke-opacity="0.9" stroke-width="0.7"/>
<circle cx="196.4" cy="140.0" r="1.85" fill="#b40426" fill-opacity="0.88" stroke="#1a1a1a" stroke-opacity="0.9" stroke-width="0.7"/>
<circle cx="200.1" cy="140.7" r="1.85" fill="#b40426" fill-opacity="0.88" stroke="#1a1a1a" stroke-opacity="0.9" stroke-width="0.7"/>
<circle cx="204.4" cy="138.9" r="1.85" fill="#b40426" fill-opacity="0.88" stroke="#1a1a1a" stroke-opacity="0.9" stroke-width="0.7"/>
<circle cx="210.2" cy="138.5" r="1.85" fill="#b40426" fill-opacity="0.88" stroke="#1a1a1a" stroke-opacity="0.9" stroke-width="0.7"/>
<circle cx="213.8" cy="138.5" r="1.85" fill="#b40426" fill-opacity="0.88" stroke="#1a1a1a" stroke-opacity="0.9" stroke-width="0.7"/>
<circle cx="217.4" cy="139.2" r="1.85" fill="#b40426" fill-opacity="0.88" stroke="#1a1a1a" stroke-opacity="0.9" stroke-width="0.7"/>
<circle cx="231.8" cy="139.9" r="1.85" fill="#b40426" fill-opacity="0.88" stroke="#1a1a1a" stroke-opacity="0.9" stroke-width="0.7"/>
<circle cx="234.0" cy="141.4" r="1.85" fill="#b40426" fill-opacity="0.88" stroke="#1a1a1a" stroke-opacity="0.9" stroke-width="0.7"/>
<circle cx="209.5" cy="141.8" r="1.85" fill="#b40426" fill-opacity="0.88" stroke="#1a1a1a" stroke-opacity="0.9" stroke-width="0.7"/>
<circle cx="205.8" cy="143.3" r="1.85" fill="#b40426" fill-opacity="0.88" stroke="#1a1a1a" stroke-opacity="0.9" stroke-width="0.7"/>
<circle cx="213.1" cy="142.8" r="1.85" fill="#b40426" fill-opacity="0.88" stroke="#1a1a1a" stroke-opacity="0.9" stroke-width="0.7"/>
<circle cx="219.3" cy="141.8" r="1.85" fill="#b40426" fill-opacity="0.88" stroke="#1a1a1a" stroke-opacity="0.9" stroke-width="0.7"/>
<circle cx="220.3" cy="144.3" r="1.85" fill="#b40426" fill-opacity="0.88" stroke="#1a1a1a" stroke-opacity="0.9" stroke-width="0.7"/>
<circle cx="225.3" cy="143.6" r="1.85" fill="#b40426" fill-opacity="0.88" stroke="#1a1a1a" stroke-opacity="0.9" stroke-width="0.7"/>
<circle cx="230.4" cy="143.8" r="1.85" fill="#b40426" fill-opacity="0.88" stroke="#1a1a1a" stroke-opacity="0.9" stroke-width="0.7"/>
<circle cx="242.0" cy="142.8" r="1.85" fill="#b40426" fill-opacity="0.88" stroke="#1a1a1a" stroke-opacity="0.9" stroke-width="0.7"/>
<circle cx="237.6" cy="145.3" r="1.85" fill="#b40426" fill-opacity="0.88" stroke="#1a1a1a" stroke-opacity="0.9" stroke-width="0.7"/>
<circle cx="196.7" cy="146.5" r="1.85" fill="#b40426" fill-opacity="0.88" stroke="#1a1a1a" stroke-opacity="0.9" stroke-width="0.7"/>
<circle cx="203.0" cy="146.2" r="1.85" fill="#b40426" fill-opacity="0.88" stroke="#1a1a1a" stroke-opacity="0.9" stroke-width="0.7"/>
<circle cx="205.1" cy="147.2" r="1.85" fill="#b40426" fill-opacity="0.88" stroke="#1a1a1a" stroke-opacity="0.9" stroke-width="0.7"/>
<circle cx="208.7" cy="146.5" r="1.85" fill="#b40426" fill-opacity="0.88" stroke="#1a1a1a" stroke-opacity="0.9" stroke-width="0.7"/>
<circle cx="216.7" cy="145.7" r="1.85" fill="#b40426" fill-opacity="0.88" stroke="#1a1a1a" stroke-opacity="0.9" stroke-width="0.7"/>
<circle cx="223.2" cy="146.5" r="1.85" fill="#b40426" fill-opacity="0.88" stroke="#1a1a1a" stroke-opacity="0.9" stroke-width="0.7"/>
<circle cx="229.4" cy="147.6" r="1.85" fill="#b40426" fill-opacity="0.88" stroke="#1a1a1a" stroke-opacity="0.9" stroke-width="0.7"/>
<circle cx="235.5" cy="147.2" r="1.85" fill="#b40426" fill-opacity="0.88" stroke="#1a1a1a" stroke-opacity="0.9" stroke-width="0.7"/>
<circle cx="239.8" cy="147.9" r="1.85" fill="#b40426" fill-opacity="0.88" stroke="#1a1a1a" stroke-opacity="0.9" stroke-width="0.7"/>
<circle cx="244.1" cy="148.6" r="1.85" fill="#b40426" fill-opacity="0.88" stroke="#1a1a1a" stroke-opacity="0.9" stroke-width="0.7"/>
<circle cx="198.6" cy="149.3" r="1.85" fill="#b40426" fill-opacity="0.88" stroke="#1a1a1a" stroke-opacity="0.9" stroke-width="0.7"/>
<circle cx="201.5" cy="148.6" r="1.85" fill="#b40426" fill-opacity="0.88" stroke="#1a1a1a" stroke-opacity="0.9" stroke-width="0.7"/>
<circle cx="213.8" cy="150.8" r="1.85" fill="#b40426" fill-opacity="0.88" stroke="#1a1a1a" stroke-opacity="0.9" stroke-width="0.7"/>
<circle cx="217.4" cy="150.1" r="1.85" fill="#b40426" fill-opacity="0.88" stroke="#1a1a1a" stroke-opacity="0.9" stroke-width="0.7"/>
<circle cx="220.3" cy="150.1" r="1.85" fill="#b40426" fill-opacity="0.88" stroke="#1a1a1a" stroke-opacity="0.9" stroke-width="0.7"/>
<circle cx="224.6" cy="149.6" r="1.85" fill="#b40426" fill-opacity="0.88" stroke="#1a1a1a" stroke-opacity="0.9" stroke-width="0.7"/>
<circle cx="227.5" cy="151.5" r="1.85" fill="#b40426" fill-opacity="0.88" stroke="#1a1a1a" stroke-opacity="0.9" stroke-width="0.7"/>
<circle cx="232.9" cy="151.1" r="1.85" fill="#b40426" fill-opacity="0.88" stroke="#1a1a1a" stroke-opacity="0.9" stroke-width="0.7"/>
<circle cx="238.4" cy="150.8" r="1.85" fill="#b40426" fill-opacity="0.88" stroke="#1a1a1a" stroke-opacity="0.9" stroke-width="0.7"/>
<circle cx="241.2" cy="150.5" r="1.85" fill="#b40426" fill-opacity="0.88" stroke="#1a1a1a" stroke-opacity="0.9" stroke-width="0.7"/>
<circle cx="199.3" cy="152.2" r="1.85" fill="#b40426" fill-opacity="0.88" stroke="#1a1a1a" stroke-opacity="0.9" stroke-width="0.7"/>
<circle cx="203.7" cy="153.7" r="1.85" fill="#b40426" fill-opacity="0.88" stroke="#1a1a1a" stroke-opacity="0.9" stroke-width="0.7"/>
<circle cx="208.0" cy="153.0" r="1.85" fill="#b40426" fill-opacity="0.88" stroke="#1a1a1a" stroke-opacity="0.9" stroke-width="0.7"/>
<circle cx="215.2" cy="153.7" r="1.85" fill="#b40426" fill-opacity="0.88" stroke="#1a1a1a" stroke-opacity="0.9" stroke-width="0.7"/>
<circle cx="218.8" cy="154.8" r="1.85" fill="#b40426" fill-opacity="0.88" stroke="#1a1a1a" stroke-opacity="0.9" stroke-width="0.7"/>
<circle cx="227.1" cy="155.1" r="1.85" fill="#b40426" fill-opacity="0.88" stroke="#1a1a1a" stroke-opacity="0.9" stroke-width="0.7"/>
<circle cx="233.3" cy="153.7" r="1.85" fill="#b40426" fill-opacity="0.88" stroke="#1a1a1a" stroke-opacity="0.9" stroke-width="0.7"/>
<circle cx="236.2" cy="153.4" r="1.85" fill="#b40426" fill-opacity="0.88" stroke="#1a1a1a" stroke-opacity="0.9" stroke-width="0.7"/>
<circle cx="234.0" cy="156.3" r="1.85" fill="#b40426" fill-opacity="0.88" stroke="#1a1a1a" stroke-opacity="0.9" stroke-width="0.7"/>
<circle cx="202.2" cy="157.3" r="1.85" fill="#b40426" fill-opacity="0.88" stroke="#1a1a1a" stroke-opacity="0.9" stroke-width="0.7"/>
<circle cx="208.7" cy="156.6" r="1.85" fill="#b40426" fill-opacity="0.88" stroke="#1a1a1a" stroke-opacity="0.9" stroke-width="0.7"/>
<circle cx="210.2" cy="155.1" r="1.85" fill="#b40426" fill-opacity="0.88" stroke="#1a1a1a" stroke-opacity="0.9" stroke-width="0.7"/>
<circle cx="218.8" cy="158.3" r="1.85" fill="#b40426" fill-opacity="0.88" stroke="#1a1a1a" stroke-opacity="0.9" stroke-width="0.7"/>
<circle cx="229.4" cy="159.2" r="1.85" fill="#b40426" fill-opacity="0.88" stroke="#1a1a1a" stroke-opacity="0.9" stroke-width="0.7"/>
<circle cx="241.2" cy="159.2" r="1.85" fill="#b40426" fill-opacity="0.88" stroke="#1a1a1a" stroke-opacity="0.9" stroke-width="0.7"/>
<circle cx="244.1" cy="155.8" r="1.85" fill="#b40426" fill-opacity="0.88" stroke="#1a1a1a" stroke-opacity="0.9" stroke-width="0.7"/>
<circle cx="207.3" cy="159.2" r="1.85" fill="#b40426" fill-opacity="0.88" stroke="#1a1a1a" stroke-opacity="0.9" stroke-width="0.7"/>
<circle cx="196.4" cy="163.1" r="1.85" fill="#b40426" fill-opacity="0.88" stroke="#1a1a1a" stroke-opacity="0.9" stroke-width="0.7"/>
<circle cx="205.1" cy="161.2" r="1.85" fill="#b40426" fill-opacity="0.88" stroke="#1a1a1a" stroke-opacity="0.9" stroke-width="0.7"/>
<circle cx="214.5" cy="162.1" r="1.85" fill="#b40426" fill-opacity="0.88" stroke="#1a1a1a" stroke-opacity="0.9" stroke-width="0.7"/>
<circle cx="218.8" cy="163.5" r="1.85" fill="#b40426" fill-opacity="0.88" stroke="#1a1a1a" stroke-opacity="0.9" stroke-width="0.7"/>
<circle cx="221.7" cy="163.1" r="1.85" fill="#b40426" fill-opacity="0.88" stroke="#1a1a1a" stroke-opacity="0.9" stroke-width="0.7"/>
<circle cx="232.9" cy="161.6" r="1.85" fill="#b40426" fill-opacity="0.88" stroke="#1a1a1a" stroke-opacity="0.9" stroke-width="0.7"/>
<circle cx="197.9" cy="166.0" r="1.85" fill="#b40426" fill-opacity="0.88" stroke="#1a1a1a" stroke-opacity="0.9" stroke-width="0.7"/>
<circle cx="200.1" cy="166.4" r="1.85" fill="#b40426" fill-opacity="0.88" stroke="#1a1a1a" stroke-opacity="0.9" stroke-width="0.7"/>
<circle cx="213.1" cy="166.4" r="1.85" fill="#b40426" fill-opacity="0.88" stroke="#1a1a1a" stroke-opacity="0.9" stroke-width="0.7"/>
<circle cx="217.4" cy="164.5" r="1.85" fill="#b40426" fill-opacity="0.88" stroke="#1a1a1a" stroke-opacity="0.9" stroke-width="0.7"/>
<circle cx="230.4" cy="168.4" r="1.85" fill="#b40426" fill-opacity="0.88" stroke="#1a1a1a" stroke-opacity="0.9" stroke-width="0.7"/>
<circle cx="241.2" cy="166.7" r="1.85" fill="#b40426" fill-opacity="0.88" stroke="#1a1a1a" stroke-opacity="0.9" stroke-width="0.7"/>
<circle cx="208.0" cy="169.6" r="1.85" fill="#b40426" fill-opacity="0.88" stroke="#1a1a1a" stroke-opacity="0.9" stroke-width="0.7"/>
<circle cx="223.9" cy="169.9" r="1.85" fill="#b40426" fill-opacity="0.88" stroke="#1a1a1a" stroke-opacity="0.9" stroke-width="0.7"/>
<circle cx="247.2" cy="138.5" r="1.85" fill="#b40426" fill-opacity="0.88" stroke="#1a1a1a" stroke-opacity="0.9" stroke-width="0.7"/>
<circle cx="250.4" cy="138.5" r="1.85" fill="#b40426" fill-opacity="0.88" stroke="#1a1a1a" stroke-opacity="0.9" stroke-width="0.7"/>
<circle cx="257.6" cy="138.6" r="1.85" fill="#b40426" fill-opacity="0.88" stroke="#1a1a1a" stroke-opacity="0.9" stroke-width="0.7"/>
<circle cx="241.4" cy="142.8" r="1.85" fill="#b40426" fill-opacity="0.88" stroke="#1a1a1a" stroke-opacity="0.9" stroke-width="0.7"/>
<circle cx="253.3" cy="143.3" r="1.85" fill="#b40426" fill-opacity="0.88" stroke="#1a1a1a" stroke-opacity="0.9" stroke-width="0.7"/>
<circle cx="274.9" cy="140.0" r="1.85" fill="#b40426" fill-opacity="0.88" stroke="#1a1a1a" stroke-opacity="0.9" stroke-width="0.7"/>
<circle cx="278.1" cy="141.0" r="1.85" fill="#b40426" fill-opacity="0.88" stroke="#1a1a1a" stroke-opacity="0.9" stroke-width="0.7"/>
<circle cx="277.9" cy="143.8" r="1.85" fill="#b40426" fill-opacity="0.88" stroke="#1a1a1a" stroke-opacity="0.9" stroke-width="0.7"/>
<circle cx="266.0" cy="144.6" r="1.85" fill="#b40426" fill-opacity="0.88" stroke="#1a1a1a" stroke-opacity="0.9" stroke-width="0.7"/>
<circle cx="271.5" cy="148.3" r="1.85" fill="#b40426" fill-opacity="0.88" stroke="#1a1a1a" stroke-opacity="0.9" stroke-width="0.7"/>
<circle cx="277.3" cy="151.3" r="1.85" fill="#b40426" fill-opacity="0.88" stroke="#1a1a1a" stroke-opacity="0.9" stroke-width="0.7"/>
<circle cx="244.3" cy="149.1" r="1.85" fill="#b40426" fill-opacity="0.88" stroke="#1a1a1a" stroke-opacity="0.9" stroke-width="0.7"/>
<circle cx="253.7" cy="150.8" r="1.85" fill="#b40426" fill-opacity="0.88" stroke="#1a1a1a" stroke-opacity="0.9" stroke-width="0.7"/>
<circle cx="256.6" cy="150.1" r="1.85" fill="#b40426" fill-opacity="0.88" stroke="#1a1a1a" stroke-opacity="0.9" stroke-width="0.7"/>
<circle cx="240.7" cy="150.8" r="1.85" fill="#b40426" fill-opacity="0.88" stroke="#1a1a1a" stroke-opacity="0.9" stroke-width="0.7"/>
<circle cx="265.7" cy="154.0" r="1.85" fill="#b40426" fill-opacity="0.88" stroke="#1a1a1a" stroke-opacity="0.9" stroke-width="0.7"/>
<circle cx="244.3" cy="155.8" r="1.85" fill="#b40426" fill-opacity="0.88" stroke="#1a1a1a" stroke-opacity="0.9" stroke-width="0.7"/>
<circle cx="245.8" cy="157.3" r="1.85" fill="#b40426" fill-opacity="0.88" stroke="#1a1a1a" stroke-opacity="0.9" stroke-width="0.7"/>
<circle cx="240.7" cy="159.5" r="1.85" fill="#b40426" fill-opacity="0.88" stroke="#1a1a1a" stroke-opacity="0.9" stroke-width="0.7"/>
<circle cx="260.1" cy="160.0" r="1.85" fill="#b40426" fill-opacity="0.88" stroke="#1a1a1a" stroke-opacity="0.9" stroke-width="0.7"/>
<circle cx="240.7" cy="166.9" r="1.85" fill="#b40426" fill-opacity="0.88" stroke="#1a1a1a" stroke-opacity="0.9" stroke-width="0.7"/>
<circle cx="244.3" cy="167.9" r="1.85" fill="#b40426" fill-opacity="0.88" stroke="#1a1a1a" stroke-opacity="0.9" stroke-width="0.7"/>
<circle cx="179.2" cy="179.0" r="1.85" fill="#b40426" fill-opacity="0.88" stroke="#1a1a1a" stroke-opacity="0.9" stroke-width="0.7"/>
<circle cx="219.6" cy="167.4" r="1.85" fill="#b40426" fill-opacity="0.88" stroke="#1a1a1a" stroke-opacity="0.9" stroke-width="0.7"/>
<circle cx="222.2" cy="171.1" r="1.85" fill="#b40426" fill-opacity="0.88" stroke="#1a1a1a" stroke-opacity="0.9" stroke-width="0.7"/>
<circle cx="224.6" cy="171.1" r="1.85" fill="#b40426" fill-opacity="0.88" stroke="#1a1a1a" stroke-opacity="0.9" stroke-width="0.7"/>
<circle cx="203.7" cy="174.0" r="1.85" fill="#b40426" fill-opacity="0.88" stroke="#1a1a1a" stroke-opacity="0.9" stroke-width="0.7"/>
<circle cx="216.7" cy="175.8" r="1.85" fill="#b40426" fill-opacity="0.88" stroke="#1a1a1a" stroke-opacity="0.9" stroke-width="0.7"/>
<circle cx="220.3" cy="176.4" r="1.85" fill="#b40426" fill-opacity="0.88" stroke="#1a1a1a" stroke-opacity="0.9" stroke-width="0.7"/>
<circle cx="245.5" cy="176.8" r="1.85" fill="#b40426" fill-opacity="0.88" stroke="#1a1a1a" stroke-opacity="0.9" stroke-width="0.7"/>
<circle cx="235.2" cy="179.3" r="1.85" fill="#b40426" fill-opacity="0.88" stroke="#1a1a1a" stroke-opacity="0.9" stroke-width="0.7"/>
<circle cx="203.7" cy="183.1" r="1.85" fill="#b40426" fill-opacity="0.88" stroke="#1a1a1a" stroke-opacity="0.9" stroke-width="0.7"/>
<circle cx="233.7" cy="189.8" r="1.85" fill="#b40426" fill-opacity="0.88" stroke="#1a1a1a" stroke-opacity="0.9" stroke-width="0.7"/>
<circle cx="239.5" cy="190.9" r="1.85" fill="#b40426" fill-opacity="0.88" stroke="#1a1a1a" stroke-opacity="0.9" stroke-width="0.7"/>
<circle cx="170.6" cy="117.4" r="1.85" fill="#b40426" fill-opacity="0.88" stroke="#1a1a1a" stroke-opacity="0.9" stroke-width="0.7"/>
<circle cx="172.6" cy="117.0" r="1.85" fill="#b40426" fill-opacity="0.88" stroke="#1a1a1a" stroke-opacity="0.9" stroke-width="0.7"/>
<circle cx="183.3" cy="113.2" r="1.85" fill="#b40426" fill-opacity="0.88" stroke="#1a1a1a" stroke-opacity="0.9" stroke-width="0.7"/>
<circle cx="187.7" cy="113.2" r="1.85" fill="#b40426" fill-opacity="0.88" stroke="#1a1a1a" stroke-opacity="0.9" stroke-width="0.7"/>
<circle cx="184.0" cy="118.7" r="1.85" fill="#b40426" fill-opacity="0.88" stroke="#1a1a1a" stroke-opacity="0.9" stroke-width="0.7"/>
<circle cx="177.9" cy="123.5" r="1.85" fill="#b40426" fill-opacity="0.88" stroke="#1a1a1a" stroke-opacity="0.9" stroke-width="0.7"/>
<circle cx="197.9" cy="112.4" r="1.85" fill="#b40426" fill-opacity="0.88" stroke="#1a1a1a" stroke-opacity="0.9" stroke-width="0.7"/>
<circle cx="191.2" cy="98.7" r="1.85" fill="#b40426" fill-opacity="0.88" stroke="#1a1a1a" stroke-opacity="0.9" stroke-width="0.7"/>
<circle cx="149.6" cy="124.3" r="1.85" fill="#b40426" fill-opacity="0.88" stroke="#1a1a1a" stroke-opacity="0.9" stroke-width="0.7"/>
<circle cx="148.2" cy="143.5" r="1.85" fill="#b40426" fill-opacity="0.88" stroke="#1a1a1a" stroke-opacity="0.9" stroke-width="0.7"/>
<circle cx="142.2" cy="111.7" r="2.75" fill="none" stroke="#3b4cc0" stroke-opacity="0.85" stroke-width="1.15"/>
<circle cx="143.2" cy="110.9" r="2.75" fill="none" stroke="#3b4cc0" stroke-opacity="0.85" stroke-width="1.15"/>
<circle cx="152.7" cy="113.1" r="2.75" fill="none" stroke="#3b4cc0" stroke-opacity="0.85" stroke-width="1.15"/>
<circle cx="160.7" cy="107.7" r="2.75" fill="none" stroke="#3b4cc0" stroke-opacity="0.85" stroke-width="1.15"/>
<circle cx="162.0" cy="107.2" r="2.75" fill="none" stroke="#3b4cc0" stroke-opacity="0.85" stroke-width="1.15"/>
<circle cx="166.6" cy="106.7" r="2.75" fill="none" stroke="#3b4cc0" stroke-opacity="0.85" stroke-width="1.15"/>
<circle cx="180.5" cy="96.9" r="2.75" fill="none" stroke="#3b4cc0" stroke-opacity="0.85" stroke-width="1.15"/>
<circle cx="178.8" cy="116.3" r="2.75" fill="none" stroke="#3b4cc0" stroke-opacity="0.85" stroke-width="1.15"/>
<circle cx="184.0" cy="114.6" r="2.75" fill="none" stroke="#3b4cc0" stroke-opacity="0.85" stroke-width="1.15"/>
<circle cx="170.6" cy="117.4" r="2.75" fill="none" stroke="#b40426" stroke-opacity="0.85" stroke-width="1.15"/>
<circle cx="172.6" cy="117.0" r="2.75" fill="none" stroke="#b40426" stroke-opacity="0.85" stroke-width="1.15"/>
<circle cx="183.3" cy="113.2" r="2.75" fill="none" stroke="#b40426" stroke-opacity="0.85" stroke-width="1.15"/>
<circle cx="187.7" cy="113.2" r="2.75" fill="none" stroke="#b40426" stroke-opacity="0.85" stroke-width="1.15"/>
<circle cx="184.0" cy="118.7" r="2.75" fill="none" stroke="#b40426" stroke-opacity="0.85" stroke-width="1.15"/>
<circle cx="177.9" cy="123.5" r="2.75" fill="none" stroke="#b40426" stroke-opacity="0.85" stroke-width="1.15"/>
<circle cx="197.9" cy="112.4" r="2.75" fill="none" stroke="#b40426" stroke-opacity="0.85" stroke-width="1.15"/>
<circle cx="191.2" cy="98.7" r="2.75" fill="none" stroke="#b40426" stroke-opacity="0.85" stroke-width="1.15"/>
<circle cx="149.6" cy="124.3" r="2.75" fill="none" stroke="#b40426" stroke-opacity="0.85" stroke-width="1.15"/>
<circle cx="148.2" cy="143.5" r="2.75" fill="none" stroke="#b40426" stroke-opacity="0.85" stroke-width="1.15"/>
</g>
<rect x="24.2" y="1.6" width="277.5" height="206.8" fill="none" stroke="#4a4a4a" stroke-width="0.8"/>
<line x1="47.33" y1="208.4" x2="47.33" y2="210.8" stroke="#4a4a4a" stroke-width="0.7"/>
<line x1="21.8" y1="191.20" x2="24.2" y2="191.20" stroke="#4a4a4a" stroke-width="0.7"/>
<text x="47.33" y="217.8" text-anchor="middle" class="tk">0.0</text>
<text x="19.20" y="193.50" text-anchor="end" class="tk">0.0</text>
<line x1="93.58" y1="208.4" x2="93.58" y2="210.8" stroke="#4a4a4a" stroke-width="0.7"/>
<line x1="21.8" y1="156.80" x2="24.2" y2="156.80" stroke="#4a4a4a" stroke-width="0.7"/>
<text x="93.58" y="217.8" text-anchor="middle" class="tk">0.2</text>
<text x="19.20" y="159.10" text-anchor="end" class="tk">0.2</text>
<line x1="139.82" y1="208.4" x2="139.82" y2="210.8" stroke="#4a4a4a" stroke-width="0.7"/>
<line x1="21.8" y1="122.40" x2="24.2" y2="122.40" stroke="#4a4a4a" stroke-width="0.7"/>
<text x="139.82" y="217.8" text-anchor="middle" class="tk">0.4</text>
<text x="19.20" y="124.70" text-anchor="end" class="tk">0.4</text>
<line x1="186.07" y1="208.4" x2="186.07" y2="210.8" stroke="#4a4a4a" stroke-width="0.7"/>
<line x1="21.8" y1="88.00" x2="24.2" y2="88.00" stroke="#4a4a4a" stroke-width="0.7"/>
<text x="186.07" y="217.8" text-anchor="middle" class="tk">0.6</text>
<text x="19.20" y="90.30" text-anchor="end" class="tk">0.6</text>
<line x1="232.32" y1="208.4" x2="232.32" y2="210.8" stroke="#4a4a4a" stroke-width="0.7"/>
<line x1="21.8" y1="53.60" x2="24.2" y2="53.60" stroke="#4a4a4a" stroke-width="0.7"/>
<text x="232.32" y="217.8" text-anchor="middle" class="tk">0.8</text>
<text x="19.20" y="55.90" text-anchor="end" class="tk">0.8</text>
<line x1="278.58" y1="208.4" x2="278.58" y2="210.8" stroke="#4a4a4a" stroke-width="0.7"/>
<line x1="21.8" y1="19.20" x2="24.2" y2="19.20" stroke="#4a4a4a" stroke-width="0.7"/>
<text x="278.58" y="217.8" text-anchor="middle" class="tk">1.0</text>
<text x="19.20" y="21.50" text-anchor="end" class="tk">1.0</text>
<text x="162.95" y="226.0" text-anchor="middle" class="al">Feature 1</text>
<text x="0" y="0" transform="translate(5.60,105.20) rotate(-90)" text-anchor="middle" class="al">Feature 2</text>
<rect x="197.50" y="4.8" width="101.0" height="20.8" rx="1.5" fill="#fff" fill-opacity="0.85" stroke="#d0d0d0" stroke-width="0.6"/>
<circle cx="206.00" cy="10.4" r="2.75" fill="none" stroke="#3b4cc0" stroke-opacity="0.85" stroke-width="1.15"/>
<circle cx="206.00" cy="19.8" r="2.75" fill="none" stroke="#b40426" stroke-opacity="0.85" stroke-width="1.15"/>
<text x="217.40" y="12.0" class="lg" textLength="78.6" lengthAdjust="spacingAndGlyphs">Support Vectors (Class 0)</text>
<text x="217.40" y="21.3" class="lg" textLength="78.6" lengthAdjust="spacingAndGlyphs">Support Vectors (Class 1)</text>
</g>
<g>
<line x1="429.40" y1="2.0" x2="429.40" y2="208.4" stroke="#e6e6e6" stroke-width="0.6"/>
<line x1="406.3" y1="191.20" x2="683.5" y2="191.20" stroke="#e6e6e6" stroke-width="0.6"/>
<line x1="475.60" y1="2.0" x2="475.60" y2="208.4" stroke="#e6e6e6" stroke-width="0.6"/>
<line x1="406.3" y1="156.80" x2="683.5" y2="156.80" stroke="#e6e6e6" stroke-width="0.6"/>
<line x1="521.80" y1="2.0" x2="521.80" y2="208.4" stroke="#e6e6e6" stroke-width="0.6"/>
<line x1="406.3" y1="122.40" x2="683.5" y2="122.40" stroke="#e6e6e6" stroke-width="0.6"/>
<line x1="568.00" y1="2.0" x2="568.00" y2="208.4" stroke="#e6e6e6" stroke-width="0.6"/>
<line x1="406.3" y1="88.00" x2="683.5" y2="88.00" stroke="#e6e6e6" stroke-width="0.6"/>
<line x1="614.20" y1="2.0" x2="614.20" y2="208.4" stroke="#e6e6e6" stroke-width="0.6"/>
<line x1="406.3" y1="53.60" x2="683.5" y2="53.60" stroke="#e6e6e6" stroke-width="0.6"/>
<line x1="660.40" y1="2.0" x2="660.40" y2="208.4" stroke="#e6e6e6" stroke-width="0.6"/>
<line x1="406.3" y1="19.20" x2="683.5" y2="19.20" stroke="#e6e6e6" stroke-width="0.6"/>
<clipPath id="clipb"><rect x="406.3" y="2.0" width="277.2" height="206.4"/></clipPath>
<g clip-path="url(#clipb)">
<line x1="406.3" y1="202.25" x2="683.5" y2="28.916840000000008" stroke="#1a1a1a" stroke-width="1.1"/>
<line x1="406.3" y1="183.95" x2="683.5" y2="10.616840000000007" stroke="#1a1a1a" stroke-width="1.05" stroke-linecap="round" stroke-dasharray="0.35 2.15"/>
<line x1="406.3" y1="220.65" x2="683.5" y2="47.316840000000006" stroke="#1a1a1a" stroke-width="1.05" stroke-linecap="round" stroke-dasharray="0.35 2.15"/>
<circle cx="524.3" cy="111.7" r="2.75" fill="none" stroke="#3b4cc0" stroke-opacity="0.85" stroke-width="1.15"/>
<circle cx="525.3" cy="110.9" r="2.75" fill="none" stroke="#3b4cc0" stroke-opacity="0.85" stroke-width="1.15"/>
<circle cx="534.8" cy="113.1" r="2.75" fill="none" stroke="#3b4cc0" stroke-opacity="0.85" stroke-width="1.15"/>
<circle cx="542.8" cy="107.7" r="2.75" fill="none" stroke="#3b4cc0" stroke-opacity="0.85" stroke-width="1.15"/>
<circle cx="544.1" cy="107.2" r="2.75" fill="none" stroke="#3b4cc0" stroke-opacity="0.85" stroke-width="1.15"/>
<circle cx="548.7" cy="106.7" r="2.75" fill="none" stroke="#3b4cc0" stroke-opacity="0.85" stroke-width="1.15"/>
<circle cx="562.6" cy="96.9" r="2.75" fill="none" stroke="#3b4cc0" stroke-opacity="0.85" stroke-width="1.15"/>
<circle cx="560.9" cy="116.3" r="2.75" fill="none" stroke="#3b4cc0" stroke-opacity="0.85" stroke-width="1.15"/>
<circle cx="566.1" cy="114.6" r="2.75" fill="none" stroke="#3b4cc0" stroke-opacity="0.85" stroke-width="1.15"/>
<circle cx="552.7" cy="117.4" r="2.75" fill="none" stroke="#b40426" stroke-opacity="0.85" stroke-width="1.15"/>
<circle cx="554.7" cy="117.0" r="2.75" fill="none" stroke="#b40426" stroke-opacity="0.85" stroke-width="1.15"/>
<circle cx="565.4" cy="113.2" r="2.75" fill="none" stroke="#b40426" stroke-opacity="0.85" stroke-width="1.15"/>
<circle cx="569.8" cy="113.2" r="2.75" fill="none" stroke="#b40426" stroke-opacity="0.85" stroke-width="1.15"/>
<circle cx="566.1" cy="118.7" r="2.75" fill="none" stroke="#b40426" stroke-opacity="0.85" stroke-width="1.15"/>
<circle cx="560.0" cy="123.5" r="2.75" fill="none" stroke="#b40426" stroke-opacity="0.85" stroke-width="1.15"/>
<circle cx="580.0" cy="112.4" r="2.75" fill="none" stroke="#b40426" stroke-opacity="0.85" stroke-width="1.15"/>
<circle cx="573.3" cy="98.7" r="2.75" fill="none" stroke="#b40426" stroke-opacity="0.85" stroke-width="1.15"/>
<circle cx="531.7" cy="124.3" r="2.75" fill="none" stroke="#b40426" stroke-opacity="0.85" stroke-width="1.15"/>
<circle cx="530.3" cy="143.5" r="2.75" fill="none" stroke="#b40426" stroke-opacity="0.85" stroke-width="1.15"/>
</g>
<rect x="406.3" y="1.6" width="277.2" height="206.8" fill="none" stroke="#4a4a4a" stroke-width="0.8"/>
<line x1="429.40" y1="208.4" x2="429.40" y2="210.8" stroke="#4a4a4a" stroke-width="0.7"/>
<line x1="403.90000000000003" y1="191.20" x2="406.3" y2="191.20" stroke="#4a4a4a" stroke-width="0.7"/>
<text x="429.40" y="217.8" text-anchor="middle" class="tk">0.0</text>
<text x="401.30" y="193.50" text-anchor="end" class="tk">0.0</text>
<line x1="475.60" y1="208.4" x2="475.60" y2="210.8" stroke="#4a4a4a" stroke-width="0.7"/>
<line x1="403.90000000000003" y1="156.80" x2="406.3" y2="156.80" stroke="#4a4a4a" stroke-width="0.7"/>
<text x="475.60" y="217.8" text-anchor="middle" class="tk">0.2</text>
<text x="401.30" y="159.10" text-anchor="end" class="tk">0.2</text>
<line x1="521.80" y1="208.4" x2="521.80" y2="210.8" stroke="#4a4a4a" stroke-width="0.7"/>
<line x1="403.90000000000003" y1="122.40" x2="406.3" y2="122.40" stroke="#4a4a4a" stroke-width="0.7"/>
<text x="521.80" y="217.8" text-anchor="middle" class="tk">0.4</text>
<text x="401.30" y="124.70" text-anchor="end" class="tk">0.4</text>
<line x1="568.00" y1="208.4" x2="568.00" y2="210.8" stroke="#4a4a4a" stroke-width="0.7"/>
<line x1="403.90000000000003" y1="88.00" x2="406.3" y2="88.00" stroke="#4a4a4a" stroke-width="0.7"/>
<text x="568.00" y="217.8" text-anchor="middle" class="tk">0.6</text>
<text x="401.30" y="90.30" text-anchor="end" class="tk">0.6</text>
<line x1="614.20" y1="208.4" x2="614.20" y2="210.8" stroke="#4a4a4a" stroke-width="0.7"/>
<line x1="403.90000000000003" y1="53.60" x2="406.3" y2="53.60" stroke="#4a4a4a" stroke-width="0.7"/>
<text x="614.20" y="217.8" text-anchor="middle" class="tk">0.8</text>
<text x="401.30" y="55.90" text-anchor="end" class="tk">0.8</text>
<line x1="660.40" y1="208.4" x2="660.40" y2="210.8" stroke="#4a4a4a" stroke-width="0.7"/>
<line x1="403.90000000000003" y1="19.20" x2="406.3" y2="19.20" stroke="#4a4a4a" stroke-width="0.7"/>
<text x="660.40" y="217.8" text-anchor="middle" class="tk">1.0</text>
<text x="401.30" y="21.50" text-anchor="end" class="tk">1.0</text>
<text x="544.90" y="226.0" text-anchor="middle" class="al">Feature 1</text>
<text x="0" y="0" transform="translate(387.70,105.20) rotate(-90)" text-anchor="middle" class="al">Feature 2</text>
<rect x="579.30" y="4.8" width="101.0" height="20.8" rx="1.5" fill="#fff" fill-opacity="0.85" stroke="#d0d0d0" stroke-width="0.6"/>
<circle cx="587.80" cy="10.4" r="2.75" fill="none" stroke="#3b4cc0" stroke-opacity="0.85" stroke-width="1.15"/>
<circle cx="587.80" cy="19.8" r="2.75" fill="none" stroke="#b40426" stroke-opacity="0.85" stroke-width="1.15"/>
<text x="599.20" y="12.0" class="lg" textLength="78.6" lengthAdjust="spacingAndGlyphs">Support Vectors (Class 0)</text>
<text x="599.20" y="21.3" class="lg" textLength="78.6" lengthAdjust="spacingAndGlyphs">Support Vectors (Class 1)</text>
</g>
<text x="158.2" y="258.7" text-anchor="middle" class="cap">(a)</text>
<text x="540" y="258.7" text-anchor="middle" class="cap">(b)</text>
</svg>
</body></html>
